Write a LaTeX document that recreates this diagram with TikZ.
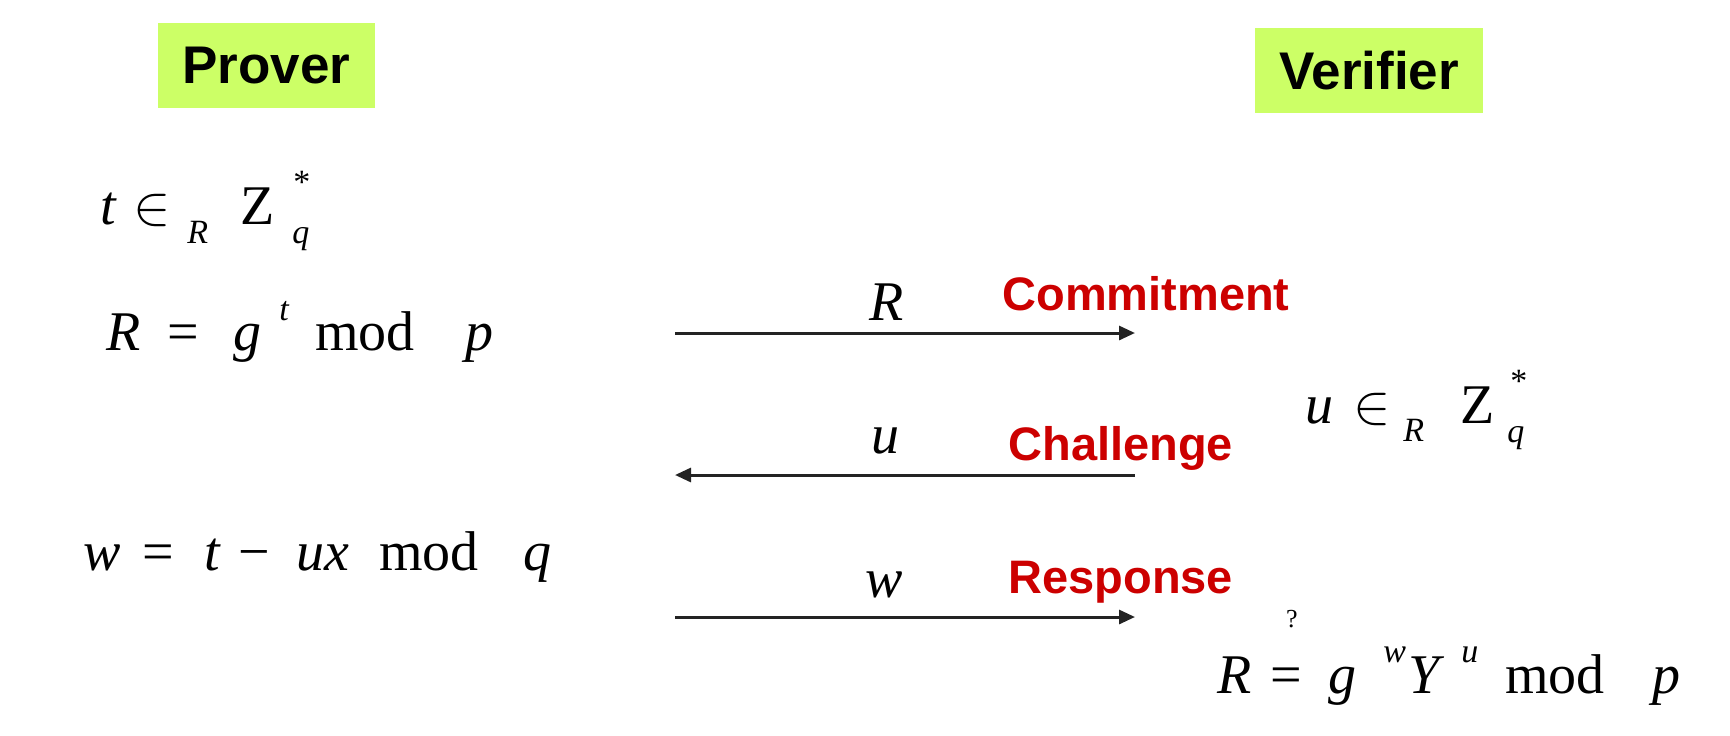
\documentclass[tikz,border=0pt]{standalone}
\usepackage{fontspec}
\usepackage{graphicx}
\usetikzlibrary{arrows.meta}
\newfontfamily\tms{Liberation Serif}
\newfontfamily\arl{Liberation Sans}
\definecolor{partygreen}{RGB}{204,255,102}
\definecolor{labred}{RGB}{204,0,0}
\definecolor{arrowgray}{RGB}{35,35,35}
\newcommand\elemsym{\scalebox{2.8}{$\in$}}
\begin{document}
\begin{tikzpicture}[x=0.5pt,y=-0.5pt,
  party/.style={fill=partygreen, inner sep=0pt, minimum height=42.5pt,
    font=\fontsize{26.5}{26.5}\selectfont\arl\bfseries},
  mvar/.style={inner sep=0pt, anchor=base west, font=\fontsize{28}{28}\selectfont\tms\itshape},
  mrm/.style={inner sep=0pt, anchor=base west, font=\fontsize{28}{28}\selectfont\tms},
  mel/.style={inner sep=0pt, anchor=base west, font=\fontsize{10}{12}\selectfont},
  mscr/.style={inner sep=0pt, anchor=base west, font=\fontsize{17}{17}\selectfont\tms\itshape},
  mstar/.style={inner sep=0pt, anchor=base west, font=\fontsize{17}{17}\selectfont\tms},
  mq/.style={inner sep=0pt, anchor=center, font=\fontsize{13}{13}\selectfont\tms},
  lab/.style={inner sep=0pt, anchor=base west, text=labred, font=\fontsize{23.5}{23.5}\selectfont\arl\bfseries},
  msg/.style={line width=1.5pt, draw=arrowgray, -{Triangle[length=8pt,width=7pt]}}]
\useasboundingbox (0,0) rectangle (1730,735);

% parties
\node[party, minimum width=108.5pt] (prover) at (266.5,65.5) {Prover};
\node[party, minimum width=114pt] (verifier) at (1369,70.5) {Verifier};

% t in_R Z_q^*
\node[mvar] (ta) at (100,224) {t};
\node[mel]  (tb) at (133,224) {\elemsym};
\node[mscr] (tc) at (187,243) {R};
\node[mrm]  (td) at (240,224) {Z};
\node[mscr] (te) at (292,243) {q};
\node[mstar](tf) at (293,193) {*};

% R = g^t mod p
\node[mvar] (ra) at (106,350) {R};
\node[mrm]  (rb) at (167,350) {=};
\node[mvar] (rc) at (233,350) {g};
\node[mscr] (rd) at (279,320) {t};
\node[mrm]  (re) at (315,350) {mod};
\node[mvar] (rf) at (465,350) {p};

% w = t - ux mod q
\node[mvar] (wa) at (83,570) {w};
\node[mrm]  (wb) at (142,570) {=};
\node[mvar] (wc) at (204,570) {t};
\node[mrm]  (wd) at (238,570) {\char"2212};
\node[mvar] (we) at (296,570) {ux};
\node[mrm]  (wf) at (379,570) {mod};
\node[mvar] (wg) at (523,570) {q};

% u in_R Z_q^*
\node[mvar] (ua) at (1305,423) {u};
\node[mel]  (ub) at (1353,423) {\elemsym};
\node[mscr] (uc) at (1403,441) {R};
\node[mrm]  (ud) at (1460,423) {Z};
\node[mscr] (ue) at (1507,442) {q};
\node[mstar](uf) at (1510,392) {*};

% R ?= g^w Y^u mod p
\node[mvar] (va) at (1217,693) {R};
\node[mrm]  (vb) at (1270,693) {=};
\node[mq]   (vq) at (1292,619) {?};
\node[mvar] (vc) at (1328,693) {g};
\node[mscr] (vd) at (1383,662) {w};
\node[mvar] (ve) at (1408,693) {Y};
\node[mscr] (vf) at (1461,662) {u};
\node[mrm]  (vg) at (1505,693) {mod};
\node[mvar] (vh) at (1652,693) {p};

% messages
\coordinate (m1s) at (675,333);
\coordinate (m1e) at (1135,333);
\coordinate (m2s) at (1135,475);
\coordinate (m2e) at (675,475);
\coordinate (m3s) at (675,617);
\coordinate (m3e) at (1135,617);
\draw[msg] (m1s) -- (m1e);
\draw[msg] (m2s) -- (m2e);
\draw[msg] (m3s) -- (m3e);

\node[mvar] (lr) at (869,320) {R};
\node[mvar] (lu) at (871,453) {u};
\node[mvar] (lw) at (865,597) {w};
\node[lab] (commit) at (1002,310) {Commitment};
\node[lab] (chall) at (1008,460) {Challenge};
\node[lab] (resp) at (1008,593) {Response};
\end{tikzpicture}
\end{document}
